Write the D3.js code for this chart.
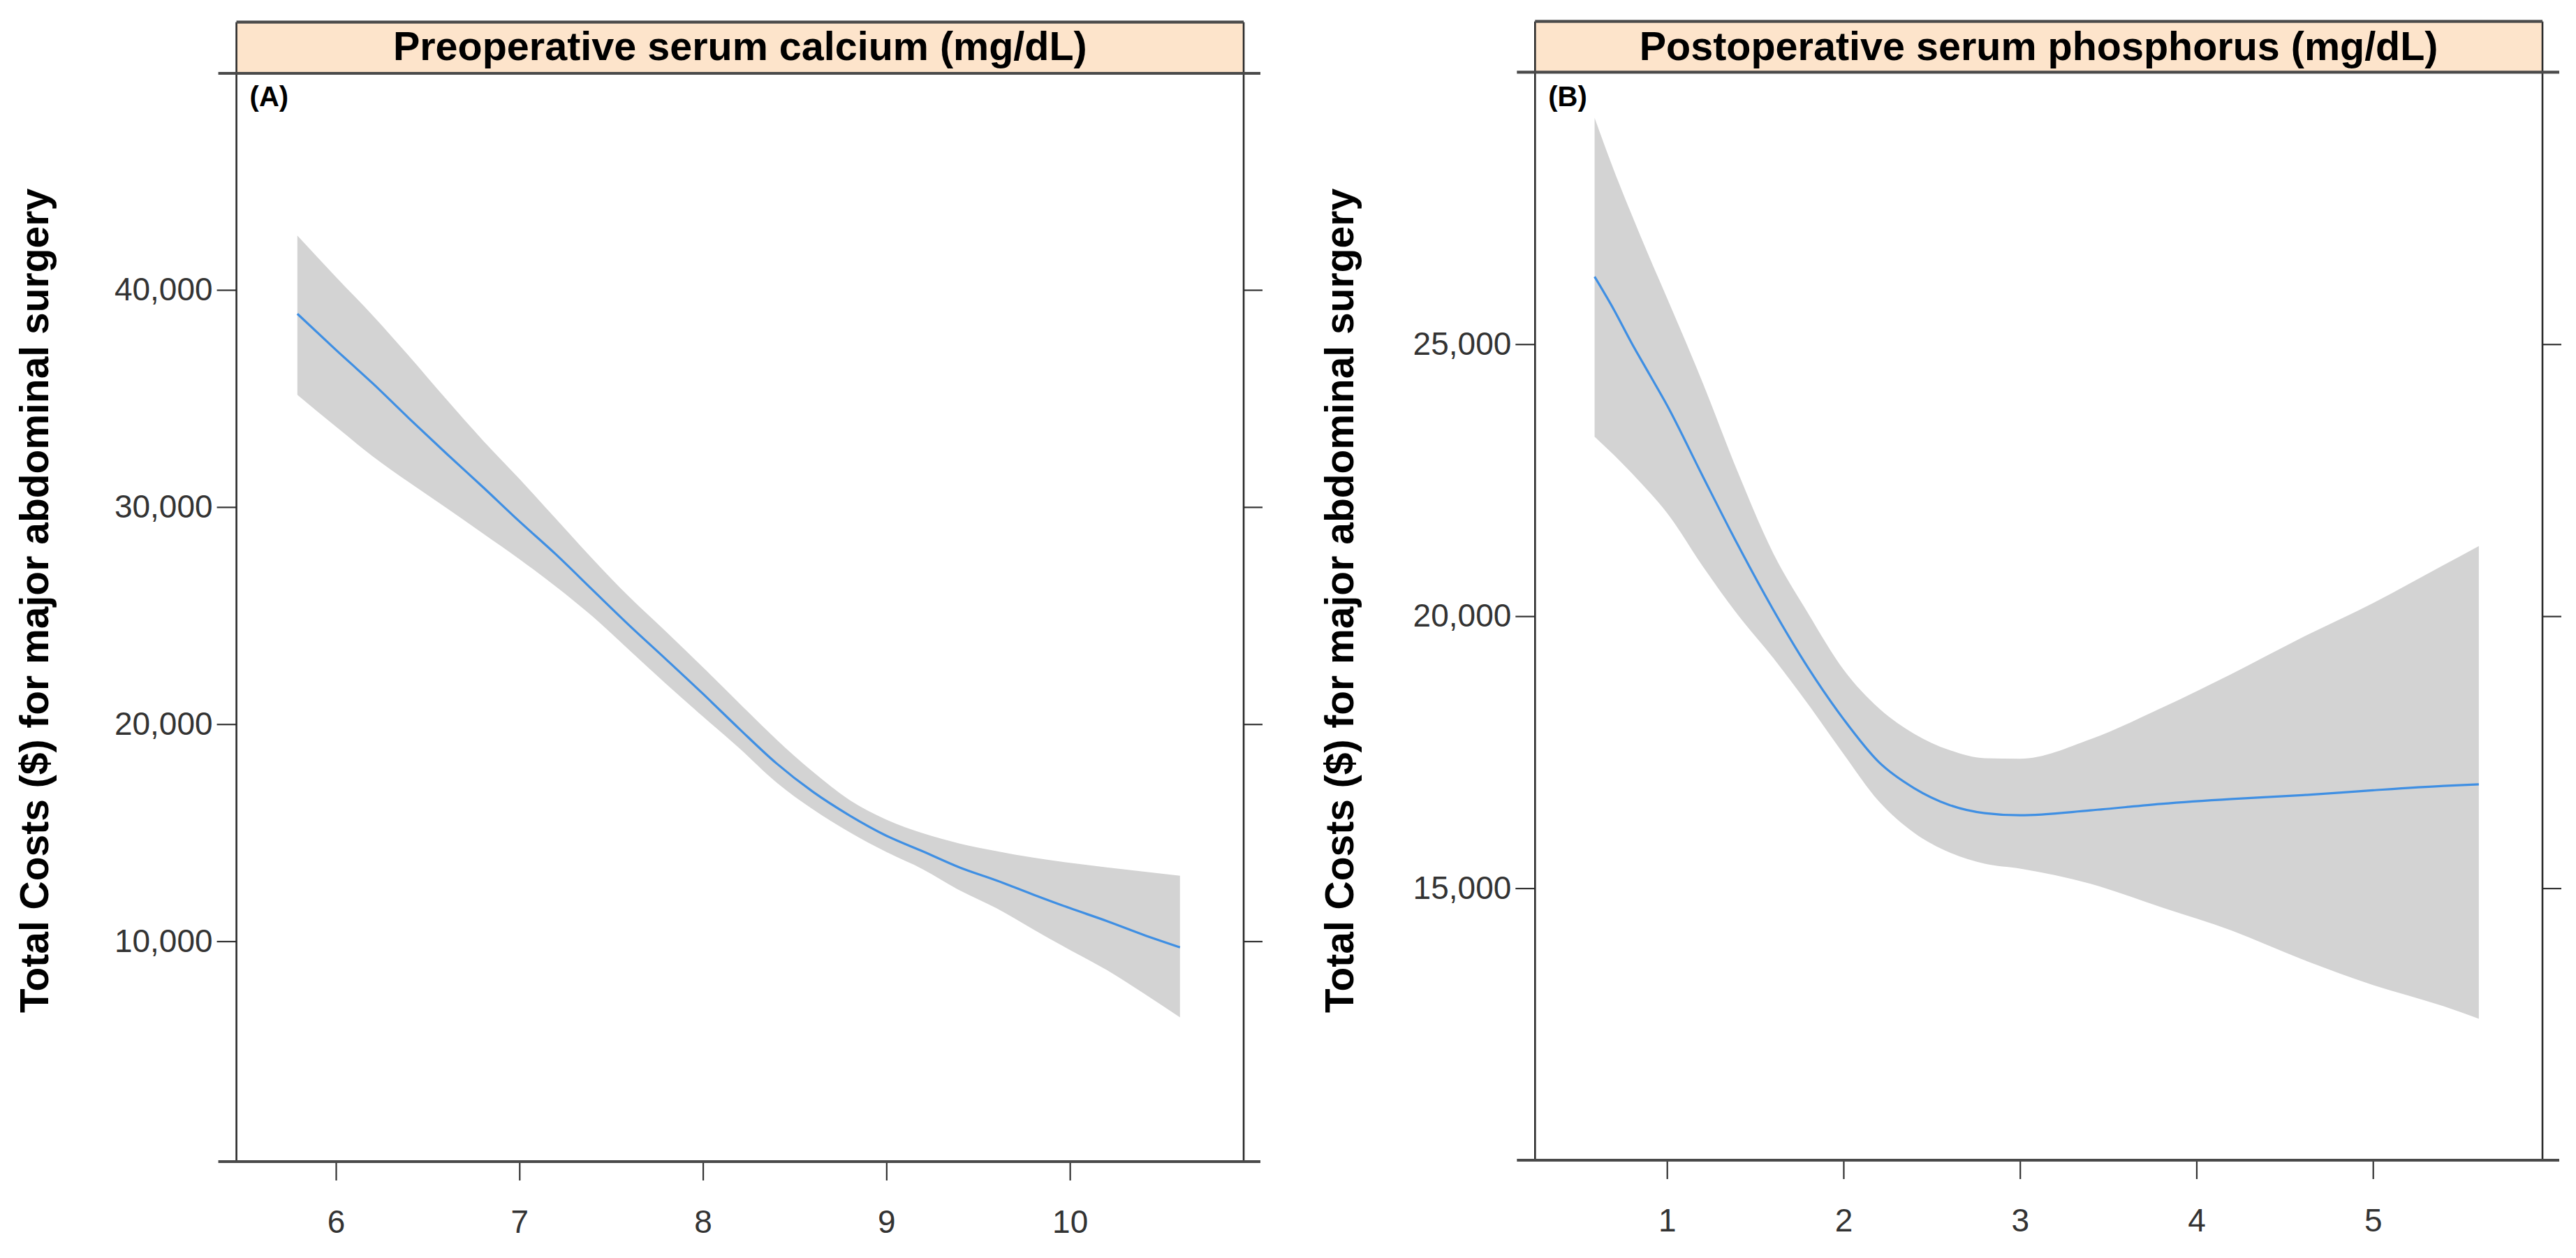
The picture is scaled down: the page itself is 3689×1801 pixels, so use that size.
<!DOCTYPE html>
<html>
<head>
<meta charset="utf-8">
<script src="https://cdn.jsdelivr.net/npm/d3@7"></script>
<style>
  html, body { margin: 0; padding: 0; background: #ffffff; }
  svg { display: block; }
</style>
</head>
<body>
<svg id="chart" width="3689" height="1801"></svg>
<script>
// ---------------- data ----------------
const titleA = "Preoperative serum calcium (mg/dL)";
const titleB = "Postoperative serum phosphorus (mg/dL)";
const yLabel = "Total Costs ($) for major abdominal surgery";
const tagA = "(A)";
const tagB = "(B)";

const xA = [5.79, 6.0, 6.2, 6.4, 6.6, 6.8, 7.0, 7.2, 7.4, 7.6, 7.8, 8.0, 8.2, 8.4, 8.6, 8.8, 9.0, 9.2, 9.4, 9.6, 9.8, 10.0, 10.2, 10.4, 10.6];
const fitA = [38900, 37240, 35700, 34070, 32480, 30930, 29340, 27810, 26170, 24540, 22980, 21400, 19770, 18200, 16880, 15790, 14860, 14135, 13395, 12800, 12150, 11525, 10935, 10300, 9720];
const upperA = [42500, 40600, 38830, 36940, 34980, 33080, 31300, 29450, 27600, 25850, 24250, 22620, 20950, 19300, 17800, 16500, 15600, 14970, 14500, 14150, 13850, 13610, 13400, 13210, 13020];
const lowerA = [35170, 33700, 32340, 31130, 29970, 28790, 27600, 26330, 24950, 23400, 21850, 20350, 18880, 17320, 16070, 15020, 14110, 13310, 12340, 11520, 10550, 9600, 8680, 7610, 6490];

const xB = [0.59, 0.7, 0.8, 0.9, 1.0, 1.2, 1.4, 1.6, 1.8, 2.0, 2.2, 2.4, 2.6, 2.8, 3.0, 3.4, 3.8, 4.2, 4.6, 5.0, 5.4, 5.6];
const fitB = [26240, 25630, 25020, 24450, 23880, 22590, 21320, 20130, 19050, 18110, 17320, 16840, 16530, 16380, 16340, 16430, 16550, 16640, 16710, 16800, 16880, 16910];
const upperB = [29160, 28190, 27380, 26600, 25850, 24310, 22660, 21170, 20050, 19020, 18310, 17840, 17540, 17390, 17380, 17740, 18310, 18940, 19610, 20240, 20940, 21290];
const lowerB = [23300, 22960, 22630, 22280, 21900, 20930, 20030, 19240, 18380, 17470, 16600, 16020, 15660, 15450, 15360, 15080, 14650, 14220, 13690, 13220, 12830, 12600];

const xTicksA = [6, 7, 8, 9, 10];
const yTicksA = [10000, 20000, 30000, 40000];
const xTicksB = [1, 2, 3, 4, 5];
const yTicksB = [15000, 20000, 25000];

const xDomainA = [5.458, 10.947];
const yDomainA = [-150, 49975];
const xDomainB = [0.2526, 5.9606];
const yDomainB = [10000, 30000];

// ---------------- layout ----------------
const panels = [
  { title: titleA, tag: tagA, x: xA, fit: fitA, up: upperA, lo: lowerA,
    xt: xTicksA, yt: yTicksA, xd: xDomainA, yd: yDomainA,
    left: 338.6, right: 1781, top: 31.7, strip: 105, bottom: 1663, labelX: 69 },
  { title: titleB, tag: tagB, x: xB, fit: fitB, up: upperB, lo: lowerB,
    xt: xTicksB, yt: yTicksB, xd: xDomainB, yd: yDomainB,
    left: 2198.3, right: 3641, top: 30.7, strip: 103.3, bottom: 1661, labelX: 1938 }
];

const svg = d3.select("#chart");
const FONT = "'Liberation Sans', Arial, Helvetica, sans-serif";
const TICKFONT = "'Liberation Sans', Arial, Helvetica, sans-serif";

panels.forEach(p => {
  const g = svg.append("g");
  const x = d3.scaleLinear().domain(p.xd).range([p.left, p.right]);
  const y = d3.scaleLinear().domain(p.yd).range([p.bottom, p.strip]);
  const rows = p.x.map((v, i) => ({ x: v, f: p.fit[i], u: p.up[i], l: p.lo[i] }));

  // strip background
  g.append("rect")
    .attr("x", p.left).attr("y", p.top)
    .attr("width", p.right - p.left).attr("height", p.strip - p.top)
    .attr("fill", "#fde4cb");

  // confidence band
  g.append("path")
    .datum(rows)
    .attr("fill", "#d3d3d3")
    .attr("stroke", "none")
    .attr("d", d3.area().x(d => x(d.x)).y0(d => y(d.l)).y1(d => y(d.u)).curve(d3.curveMonotoneX));

  // fitted line
  g.append("path")
    .datum(rows)
    .attr("fill", "none")
    .attr("stroke", "#3f8fe3")
    .attr("stroke-width", 3.2)
    .attr("d", d3.line().x(d => x(d.x)).y(d => y(d.f)).curve(d3.curveMonotoneX));

  // axes
  const axL = g.append("g").attr("transform", `translate(${p.left},0)`)
    .call(d3.axisLeft(y).tickValues(p.yt).tickSize(28).tickPadding(6).tickFormat(d3.format(",")));
  const axR = g.append("g").attr("transform", `translate(${p.right},0)`)
    .call(d3.axisRight(y).tickValues(p.yt).tickSize(27).tickFormat(""));
  const axB = g.append("g").attr("transform", `translate(0,${p.bottom})`)
    .call(d3.axisBottom(x).tickValues(p.xt).tickSize(27).tickPadding(42).tickFormat(d3.format("d")));
  [axL, axR, axB].forEach(a => {
    a.select(".domain").remove();
    a.selectAll(".tick line").attr("stroke", "#333").attr("stroke-width", 2.2);
    a.selectAll(".tick text").attr("fill", "#333").style("font-family", TICKFONT).style("font-size", "46px");
  });

  // frame
  const thin = { stroke: "#2b2b2b", w: 2.6 };
  const thick = { stroke: "#4a4a4a", w: 4.2 };
  const line = (x1, y1, x2, y2, s) => g.append("line")
    .attr("x1", x1).attr("y1", y1).attr("x2", x2).attr("y2", y2)
    .attr("stroke", s.stroke).attr("stroke-width", s.w);
  line(p.left, p.top, p.left, p.bottom, thin);
  line(p.right, p.top, p.right, p.bottom, thin);
  line(p.left, p.top, p.right, p.top, thick);
  line(p.left - 26, p.strip, p.right + 24, p.strip, thick);
  line(p.left - 26, p.bottom, p.right + 24, p.bottom, thick);

  // strip title
  g.append("text")
    .attr("x", (p.left + p.right) / 2).attr("y", 86)
    .attr("text-anchor", "middle")
    .style("font-family", FONT).style("font-weight", "bold").style("font-size", "57.5px")
    .attr("fill", "#000")
    .text(p.title);

  // panel tag
  g.append("text")
    .attr("x", p.left + 19).attr("y", 152)
    .style("font-family", FONT).style("font-weight", "bold").style("font-size", "40px")
    .attr("fill", "#000")
    .text(p.tag);

  // y label
  g.append("text")
    .attr("transform", `translate(${p.labelX},860) rotate(-90)`)
    .attr("text-anchor", "middle")
    .style("font-family", FONT).style("font-weight", "bold").style("font-size", "57px")
    .attr("fill", "#000")
    .text(yLabel);
});
</script>
</body>
</html>
